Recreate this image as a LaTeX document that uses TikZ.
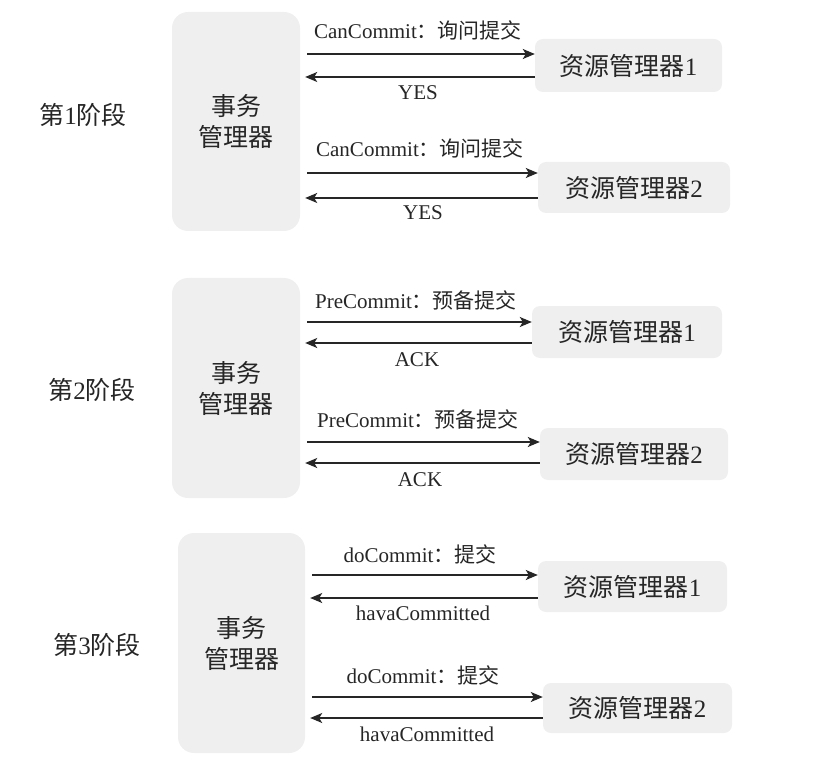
\documentclass[tikz,border=0pt]{standalone}
\usepackage{fontspec}
\setmainfont{Liberation Serif}
\newfontfamily\cjk{Noto Sans CJK SC}
\usetikzlibrary{arrows.meta}
\definecolor{boxgray}{HTML}{EFEFEF}
\definecolor{ink}{HTML}{262626}
\tikzset{
  tmbox/.style={fill=boxgray, rounded corners=16pt, inner sep=0pt, align=center,
    text=ink, font=\fontsize{25}{31}\selectfont},
  rmbox/.style={fill=boxgray, rounded corners=8pt, inner sep=0pt,
    text=ink, font=\fontsize{25}{30}\selectfont},
  stagelbl/.style={text=ink, font=\fontsize{25}{30}\selectfont, inner sep=0pt},
  msg/.style={text=ink, font=\fontsize{21}{25}\selectfont, inner sep=0pt},
  fwd/.style={draw=ink, line width=1.4pt, -{Stealth[length=12pt,width=10pt,inset=3pt]}, shorten <=7pt},
  bwd/.style={draw=ink, line width=1.4pt, -{Stealth[length=12pt,width=10pt,inset=3pt]}, shorten >=5pt}
}
\begin{document}
\begin{tikzpicture}[x=1pt,y=-1pt]
\useasboundingbox (0,0) rectangle (827,767);

% ---------- Stage 1 ----------
\node[stagelbl] (s1) at (83,115) {{\cjk 第}1{\cjk 阶段}};
\node[tmbox, minimum width=128pt, minimum height=219pt] (tm1) at (236,121.5) {{\cjk 事务}\\{\cjk 管理器}};
\node[rmbox, minimum width=187pt, minimum height=53pt] (rm11) at (628.5,65.5) {{\cjk 资源管理器}1};
\node[rmbox, minimum width=192pt, minimum height=51pt] (rm12) at (634,187.5) {{\cjk 资源管理器}2};
\draw[fwd] (tm1.east |- 0,54) -- (rm11.west |- 0,54);
\draw[bwd] (rm11.west |- 0,77) -- (tm1.east |- 0,77);
\draw[fwd] (tm1.east |- 0,173) -- (rm12.west |- 0,173);
\draw[bwd] (rm12.west |- 0,198) -- (tm1.east |- 0,198);
\node[msg] (m111) at (418,30) {CanCommit{\cjk ：询问提交}};
\node[msg] (m112) at (418,93) {YES};
\node[msg] (m121) at (420,148) {CanCommit{\cjk ：询问提交}};
\node[msg] (m122) at (423,213) {YES};

% ---------- Stage 2 ----------
\node[stagelbl] (s2) at (92,390) {{\cjk 第}2{\cjk 阶段}};
\node[tmbox, minimum width=128pt, minimum height=220pt] (tm2) at (236,388) {{\cjk 事务}\\{\cjk 管理器}};
\node[rmbox, minimum width=190pt, minimum height=52pt] (rm21) at (627,332) {{\cjk 资源管理器}1};
\node[rmbox, minimum width=188pt, minimum height=52pt] (rm22) at (634,454) {{\cjk 资源管理器}2};
\draw[fwd] (tm2.east |- 0,322) -- (rm21.west |- 0,322);
\draw[bwd] (rm21.west |- 0,343) -- (tm2.east |- 0,343);
\draw[fwd] (tm2.east |- 0,442) -- (rm22.west |- 0,442);
\draw[bwd] (rm22.west |- 0,463) -- (tm2.east |- 0,463);
\node[msg] (m211) at (416,300) {PreCommit{\cjk ：预备提交}};
\node[msg] (m212) at (417,360) {ACK};
\node[msg] (m221) at (418,419) {PreCommit{\cjk ：预备提交}};
\node[msg] (m222) at (420,480) {ACK};

% ---------- Stage 3 ----------
\node[stagelbl] (s3) at (97,645) {{\cjk 第}3{\cjk 阶段}};
\node[tmbox, minimum width=127pt, minimum height=220pt] (tm3) at (241.5,643) {{\cjk 事务}\\{\cjk 管理器}};
\node[rmbox, minimum width=189pt, minimum height=51pt] (rm31) at (632.5,586.5) {{\cjk 资源管理器}1};
\node[rmbox, minimum width=189pt, minimum height=50pt] (rm32) at (637.5,708) {{\cjk 资源管理器}2};
\draw[fwd] (tm3.east |- 0,575) -- (rm31.west |- 0,575);
\draw[bwd] (rm31.west |- 0,598) -- (tm3.east |- 0,598);
\draw[fwd] (tm3.east |- 0,697) -- (rm32.west |- 0,697);
\draw[bwd] (rm32.west |- 0,718) -- (tm3.east |- 0,718);
\node[msg] (m311) at (420,554) {doCommit{\cjk ：提交}};
\node[msg] (m312) at (423,613) {havaCommitted};
\node[msg] (m321) at (423,675) {doCommit{\cjk ：提交}};
\node[msg] (m322) at (427,734) {havaCommitted};
\end{tikzpicture}
\end{document}
